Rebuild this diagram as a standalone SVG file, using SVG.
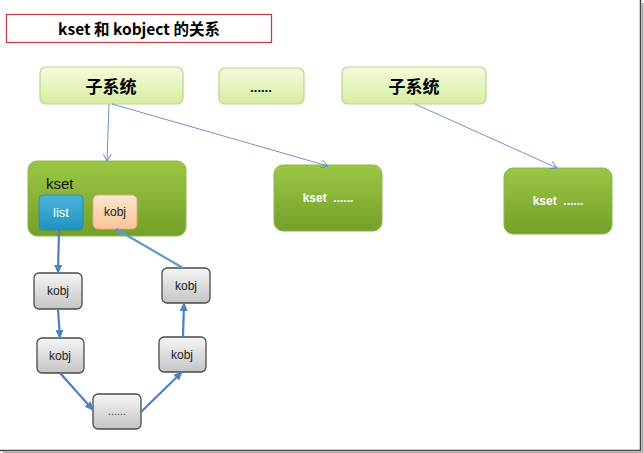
<svg xmlns="http://www.w3.org/2000/svg" width="644" height="453" viewBox="0 0 644 453">
<defs>
<linearGradient id="gSub" x1="0" y1="0" x2="0" y2="1"><stop offset="0" stop-color="#f4fbdc"/><stop offset="1" stop-color="#d6eda0"/></linearGradient>
<linearGradient id="gKset" x1="0" y1="0" x2="0" y2="1"><stop offset="0" stop-color="#9cc644"/><stop offset="1" stop-color="#74a02a"/></linearGradient>
<linearGradient id="gList" x1="0" y1="0" x2="0" y2="1"><stop offset="0" stop-color="#4bb5dc"/><stop offset="1" stop-color="#1f93bd"/></linearGradient>
<linearGradient id="gOr" x1="0" y1="0" x2="0" y2="1"><stop offset="0" stop-color="#fde6d0"/><stop offset="1" stop-color="#fbc596"/></linearGradient>
<linearGradient id="gGray" x1="0" y1="0" x2="0" y2="1"><stop offset="0" stop-color="#f6f6f6"/><stop offset="1" stop-color="#c4c4c4"/></linearGradient>
<marker id="aThin" markerWidth="10" markerHeight="10" refX="8" refY="5" orient="auto" markerUnits="userSpaceOnUse"><path d="M1,1 L8,5 L1,9" fill="none" stroke="#6f8fc0" stroke-width="1"/></marker>
<marker id="aThick" markerWidth="10" markerHeight="10" refX="8" refY="5" orient="auto" markerUnits="userSpaceOnUse"><path d="M0,1 L9,5 L0,9 Z" fill="#4f7fbf"/></marker>
<marker id="aTeal" markerWidth="10" markerHeight="10" refX="8" refY="5" orient="auto" markerUnits="userSpaceOnUse"><path d="M0,1 L9,5 L0,9 Z" fill="#5b9dc4"/></marker>
</defs>
<style>
.sub{fill:url(#gSub);stroke:#b5d88a;stroke-width:1.2}
.ks{fill:url(#gKset);stroke:#8ab84a;stroke-width:1}
.ko{fill:url(#gGray);stroke:#4a4a4a;stroke-width:1.3}
.t{font-family:"Liberation Sans","Noto Sans CJK SC",sans-serif;text-anchor:middle}
.cjk{font-family:"Noto Sans CJK SC","Liberation Sans",sans-serif;text-anchor:middle;font-weight:bold}
.thin{stroke:#7393c6;stroke-width:1;fill:none;marker-end:url(#aThin)}
.thick{stroke:#4f7fbf;stroke-width:2.2;fill:none;marker-end:url(#aThick)}
</style>
<rect x="0" y="0" width="644" height="453" fill="#ffffff"/>
<line x1="640.5" y1="0" x2="640.5" y2="450.5" stroke="#444" stroke-width="1.5"/>
<line x1="0" y1="450.5" x2="641" y2="450.5" stroke="#444" stroke-width="1.5"/>
<line x1="642.5" y1="3" x2="642.5" y2="452.5" stroke="#aaa" stroke-width="2"/>
<line x1="3" y1="452.5" x2="643" y2="452.5" stroke="#aaa" stroke-width="2"/>

<g id="title">
<rect x="6.5" y="14.5" width="265" height="28" fill="#fff" stroke="#c0404a" stroke-width="1.3"/>
<text x="139" y="34.5" class="cjk" font-size="15.5">kset 和 kobject 的关系</text>
</g>

<g id="sub1"><rect x="40" y="67" width="143" height="37" rx="6" class="sub"/><text x="111" y="93" class="cjk" font-size="17">子系统</text></g>
<g id="subdots"><rect x="219" y="68" width="85" height="36" rx="6" class="sub"/><text x="261" y="92" class="t" font-size="13" font-weight="bold">......</text></g>
<g id="sub2"><rect x="342" y="67" width="144" height="37" rx="6" class="sub"/><text x="414" y="93" class="cjk" font-size="17">子系统</text></g>

<g id="kset1">
<rect x="28" y="161" width="158" height="75" rx="9" class="ks"/>
<text x="46" y="189" font-family="Liberation Sans,sans-serif" font-size="15" fill="#111">kset</text>
</g>
<g id="list"><rect x="39" y="195" width="44" height="35" rx="4" fill="url(#gList)" stroke="#2a86a8" stroke-width="0.8"/><text x="61" y="217" class="t" font-size="13" fill="#fff">list</text></g>
<g id="kobjOrange"><rect x="93" y="195" width="44" height="34" rx="5" fill="url(#gOr)" stroke="#e8a877" stroke-width="1"/><text x="115" y="216" class="t" font-size="12" fill="#222">kobj</text></g>

<g id="kset2"><rect x="274" y="165" width="108" height="66" rx="9" class="ks"/><text x="328" y="202" class="t" font-size="12" font-weight="bold" fill="#fff" xml:space="preserve">kset  ......</text></g>
<g id="kset3"><rect x="504" y="168" width="108" height="66" rx="9" class="ks"/><text x="558" y="205" class="t" font-size="12" font-weight="bold" fill="#fff" xml:space="preserve">kset  ......</text></g>

<g id="kobj1"><rect x="34" y="273" width="48" height="36" rx="5" class="ko"/><text x="58" y="295" class="t" font-size="12" fill="#222">kobj</text></g>
<g id="kobj2"><rect x="37" y="338" width="47" height="35" rx="5" class="ko"/><text x="60" y="360" class="t" font-size="12" fill="#222">kobj</text></g>
<g id="kobj3"><rect x="93" y="394" width="48" height="35" rx="5" class="ko"/><text x="117" y="415" class="t" font-size="11" fill="#444">......</text></g>
<g id="kobj4"><rect x="159" y="337" width="47" height="35" rx="5" class="ko"/><text x="182" y="359" class="t" font-size="12" fill="#222">kobj</text></g>
<g id="kobj5"><rect x="162" y="268" width="48" height="35" rx="5" class="ko"/><text x="186" y="290" class="t" font-size="12" fill="#222">kobj</text></g>

<g id="connectors">
<line x1="109" y1="104" x2="107" y2="161" class="thin"/>
<line x1="112" y1="104" x2="328" y2="166" class="thin"/>
<line x1="415" y1="104" x2="557" y2="168" class="thin"/>
<line x1="59" y1="230" x2="58" y2="273" class="thick"/>
<line x1="58" y1="309" x2="60" y2="338" class="thick"/>
<line x1="60" y1="373" x2="93" y2="410" class="thick"/>
<line x1="141" y1="412" x2="182" y2="372" class="thick"/>
<line x1="183" y1="337" x2="184" y2="303" class="thick"/>
<line x1="183" y1="268" x2="116" y2="229" stroke="#5b9dc4" stroke-width="2.2" marker-end="url(#aTeal)"/>
</g>
</svg>
